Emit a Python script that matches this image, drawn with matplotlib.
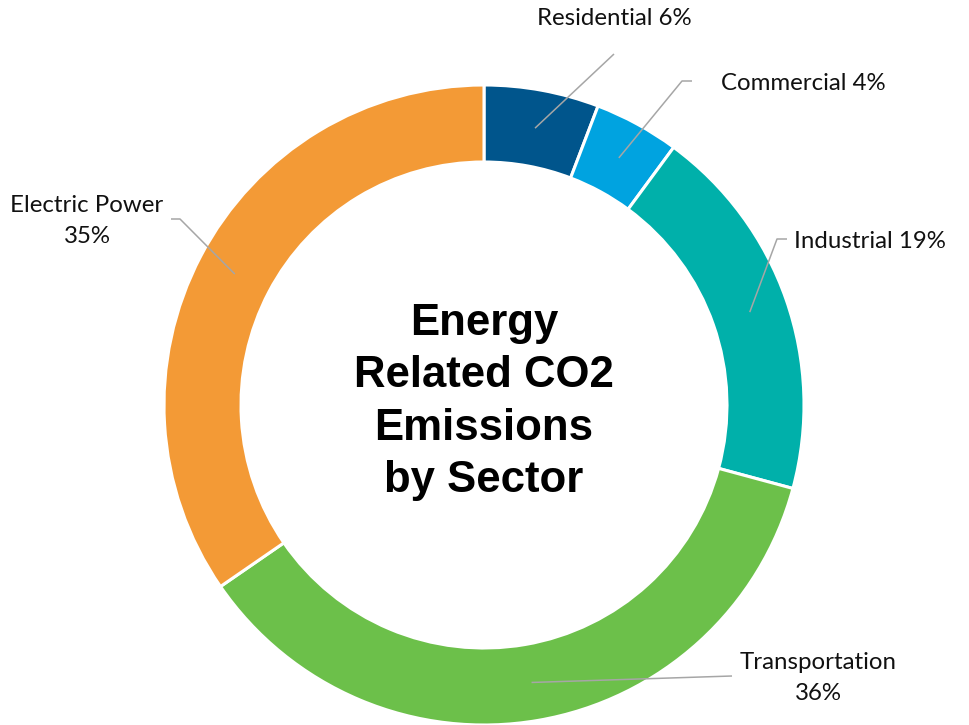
import matplotlib
matplotlib.use('Agg')
import matplotlib.pyplot as plt
import numpy as np

sectors = ['Residential', 'Commercial', 'Industrial', 'Transportation', 'Electric Power']
shares = [5.8, 4.3, 19.1, 36.2, 34.6]
colors = ['#00558C', '#00A3E0', '#00B0AA', '#6CC04A', '#F39A36']
label_texts = ['Residential 6%', 'Commercial 4%', 'Industrial 19%',
               'Transportation\n36%', 'Electric Power\n35%']
center_title = 'Energy\nRelated CO2\nEmissions\nby Sector'

W, H = 969, 725
fig = plt.figure(figsize=(W / 100, H / 100), dpi=100)
ax = fig.add_axes([0, 0, 1, 1])

cx, cy = 484, H - 405
R, ring = 320, 77
wedges, _ = ax.pie(shares, colors=colors, startangle=90, counterclock=False,
                   radius=R, center=(cx, cy), frame=True,
                   wedgeprops=dict(width=ring, edgecolor='white', linewidth=2.2))
ax.set_xlim(0, W)
ax.set_ylim(0, H)
ax.axis('off')

# layout of labels (pixel coordinates, y from top): elbow point, line end, text centre
layout = [
    (None, (614, 54), (614, 18)),
    ((682, 81), (692, 81), (803, 83)),
    ((777, 239), (787, 239), (870, 241)),
    (None, (732, 676), (818, 678)),
    ((180, 219), (171, 219), (87, 221)),
]

r_mid = R - ring / 2
for w, txt, (elbow, end, tc) in zip(wedges, label_texts, layout):
    ang = np.deg2rad((w.theta1 + w.theta2) / 2)
    sx, sy = cx + r_mid * np.cos(ang), cy + r_mid * np.sin(ang)
    xs, ys = [sx], [sy]
    if elbow is not None:
        xs.append(elbow[0]); ys.append(H - elbow[1])
    xs.append(end[0]); ys.append(H - end[1])
    ax.plot(xs, ys, color='#A6A6A6', lw=1.1, solid_capstyle='butt')
    ax.text(tc[0], H - tc[1], txt, ha='center', va='center', fontsize=17.3,
            family='Lato', color='#111111', linespacing=1.6, multialignment='center')

ax.text(cx, H - 402, center_title, ha='center', va='center', fontsize=31.5,
        fontweight='bold', family='Liberation Sans', color='black',
        linespacing=1.36, multialignment='center')

fig.savefig('out.png', dpi=100, facecolor='white')
